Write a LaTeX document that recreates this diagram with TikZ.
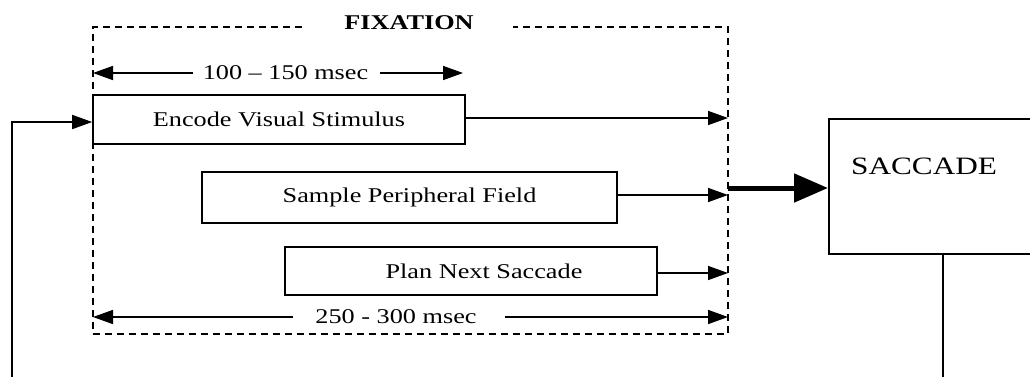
\documentclass[tikz,border=0pt]{standalone}
\usepackage{fontspec}
\setmainfont{Liberation Serif}[FakeStretch=1.25]
\usetikzlibrary{arrows.meta}
\begin{document}
\begin{tikzpicture}[x=1pt,y=-1pt,
  lbl/.style={font=\fontsize{21}{24}\selectfont, inner sep=0pt},
  boxnode/.style={draw, line width=1.6pt, inner sep=0pt, font=\fontsize{21}{24}\selectfont},
  conn/.style={line width=1.6pt, -{Triangle[length=20pt,width=14pt]}},
  fixbox/.style={draw, line width=1.5pt, dash pattern=on 7pt off 5pt}]
\clip (0,0) rectangle (1030,376);
\fill[white] (0,0) rectangle (1030,376);

% fixation dashed box
\node[fixbox, minimum width=635pt, minimum height=307pt, inner sep=0pt] (fix) at (410.5,180.5) {};
\node[fill=white, inner sep=0pt, minimum width=208pt, minimum height=20pt,
      font=\fontsize{21}{24}\selectfont\bfseries] (fixlbl) at (409,22.5) {FIXATION};

% process boxes
\node[boxnode, minimum width=372pt, minimum height=49pt] (enc) at (279,119.5) {Encode Visual Stimulus};
\node[boxnode, minimum width=415pt, minimum height=51pt] (samp) at (409.5,197.5) {Sample Peripheral Field};
\node[boxnode, minimum width=372pt, minimum height=48pt] (plan) at (471,271) {\hspace*{26pt}Plan Next Saccade};

% saccade box
\node[boxnode, minimum width=215pt, minimum height=135pt, anchor=north west] (sac) at (828,118) {};
\node[font=\fontsize{25}{28}\selectfont, inner sep=0pt, anchor=west] (saclbl) at (851,166) {SACCADE};

% right-edge coordinates
\coordinate (e1) at (728,118);
\coordinate (e2) at (728,195);
\coordinate (e3) at (728,273);
\coordinate (ethick) at (728,188);

\draw[conn] (enc.east |- e1) -- (e1);
\draw[conn] (samp.east |- e2) -- (e2);
\draw[conn] (plan.east |- e3) -- (e3);

% thick arrow to saccade
\draw[line width=5pt, -{Triangle[length=34pt,width=28pt]}] (ethick) -- (sac.west |- ethick);

% duration markers
\node[lbl] (d1) at (285.5,73) {100 -- 150 msec};
\coordinate (d1l) at (93,73);
\coordinate (d1r) at (463,73);
\draw[conn] ([xshift=-10pt]d1.west) -- (d1l);
\draw[conn] ([xshift=12pt]d1.east) -- (d1r);

\node[lbl] (d2) at (396,317) {250 - 300 msec};
\coordinate (d2l) at (93,317);
\coordinate (d2r) at (728,317);
\draw[conn] ([xshift=-22pt]d2.west) -- (d2l);
\draw[conn] ([xshift=28pt]d2.east) -- (d2r);

% feedback loop
\coordinate (fbl) at (12,380);
\coordinate (fbr) at (943,380);
\draw[line width=1.6pt] (sac.south -| fbr) -- (fbr);
\draw[conn] (fbl) -- (12,122) -- (enc.west |- 0,122);
\end{tikzpicture}
\end{document}
